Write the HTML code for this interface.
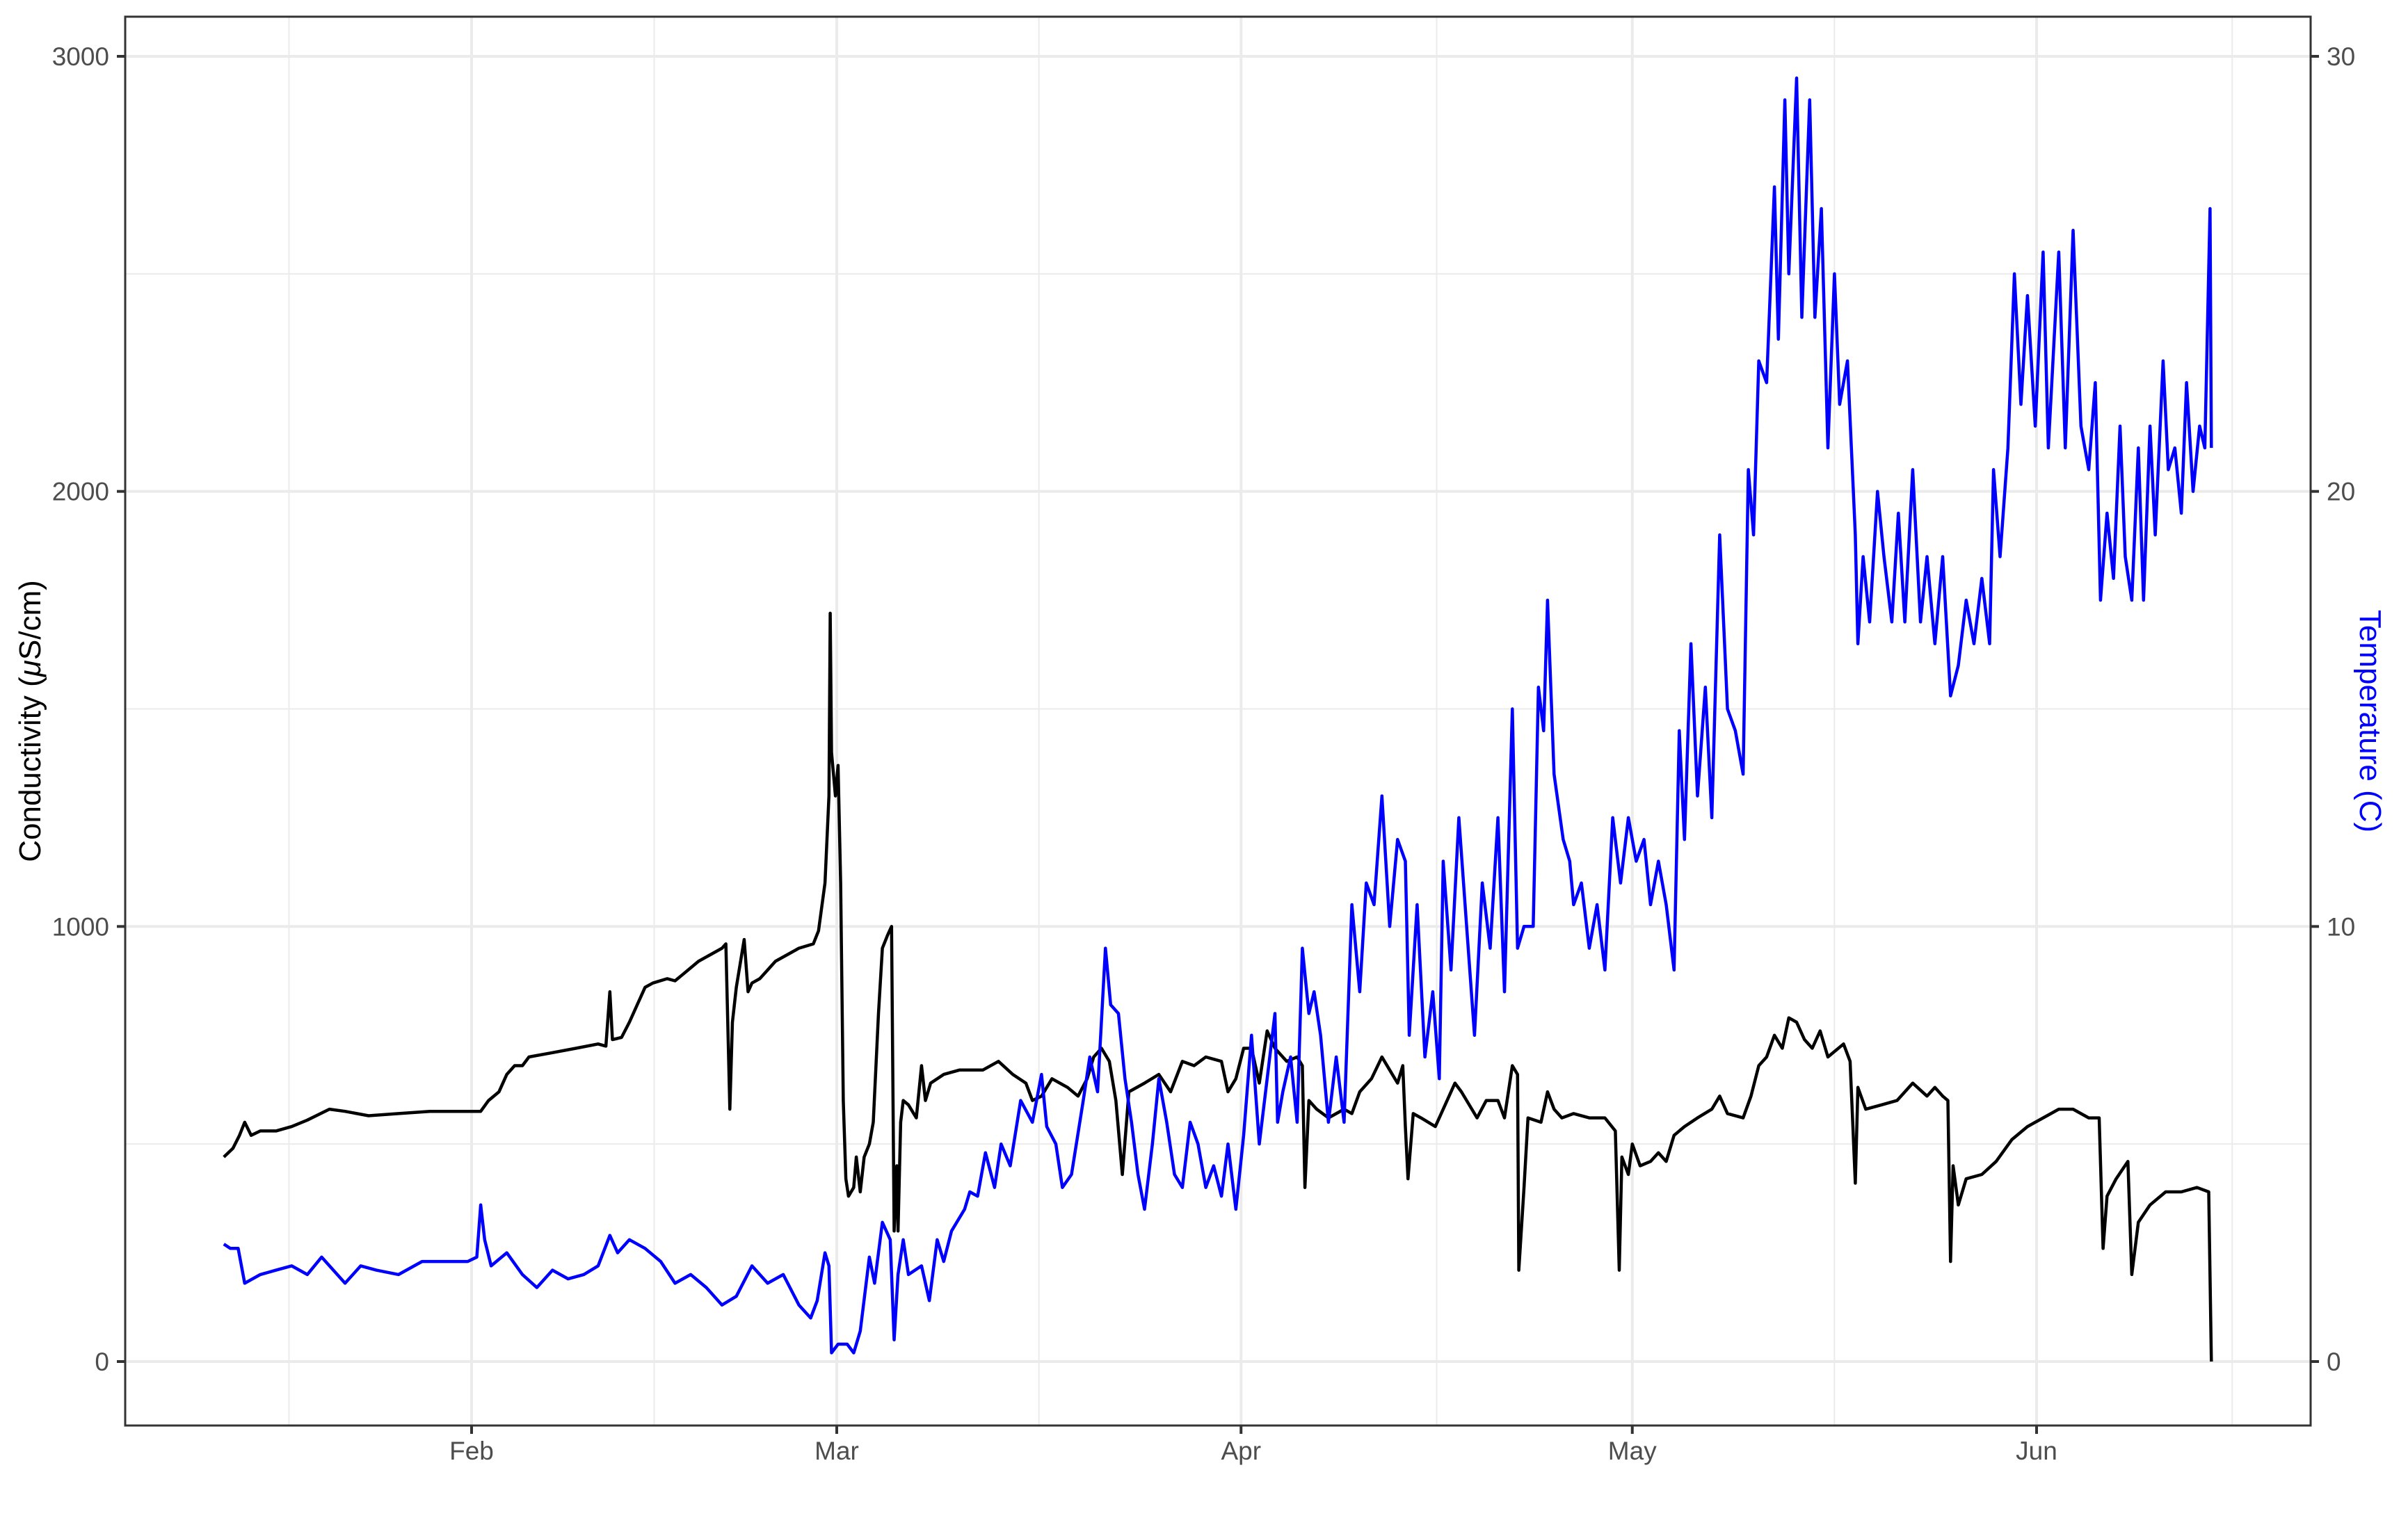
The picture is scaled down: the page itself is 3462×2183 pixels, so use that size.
<!DOCTYPE html>
<html><head><meta charset="utf-8"><style>
body{margin:0;background:#fff;}
svg{display:block;font-family:"Liberation Sans",sans-serif;}
</style></head><body>
<svg id="chart" width="3462" height="2183" viewBox="0 0 3462 2183" xmlns="http://www.w3.org/2000/svg">
<rect width="3462" height="2183" fill="#fff"/>
<g id="grid"></g>
<g id="series"></g>
<rect x="180" y="24" width="3142" height="2026" fill="none" stroke="#333" stroke-width="3"/>
<g id="axes"></g>
<text transform="translate(58,1037) rotate(-90)" text-anchor="middle" font-size="44" fill="#000">Conductivity (<tspan font-style="italic">μ</tspan>S/cm)</text>
<text transform="translate(3393,1037) rotate(90)" text-anchor="middle" font-size="44" fill="#0000ff">Temperature (C)</text>
</svg>
<script>
// Days counted from Jan 1 (day 0)
const monthLabels = ["Feb","Mar","Apr","May","Jun"];
const monthDays = [31,59,90,120,151];
const minorDays = [17,45,74.5,105,135.5,166];
const condTicks = [0,1000,2000,3000];
const condMinor = [500,1500,2500];
const tempTicks = [0,10,20,30];

const condDays = [12.0,12.7,13.2,13.6,14.1,14.8,16.0,17.2,18.4,20.1,21.3,23.1,25.4,27.8,30.1,31.7,32.3,33.1,33.7,34.3,34.9,35.4,37.2,39.0,40.7,41.3,41.6,41.8,42.5,43.1,43.7,44.3,44.9,46.0,46.6,47.2,48.4,50.2,50.5,50.8,51.0,51.3,51.9,52.2,52.5,53.1,54.3,55.5,56.1,57.2,57.6,58.1,58.4,58.5,58.6,58.9,59.1,59.3,59.5,59.7,59.9,60.3,60.5,60.8,61.1,61.5,61.8,62.2,62.5,62.9,63.2,63.4,63.6,63.7,63.9,64.1,64.5,65.1,65.5,65.8,66.2,67.2,68.4,70.2,71.4,72.5,73.5,74.0,74.7,75.5,76.7,77.5,78.2,78.7,79.3,79.9,80.4,80.9,81.4,82.6,83.7,84.6,85.5,86.4,87.3,88.5,89.0,89.6,90.2,90.8,91.4,92.0,92.6,93.5,94.3,94.7,94.9,95.2,95.8,96.7,97.9,98.5,99.1,100.0,100.8,101.4,102.0,102.4,102.6,102.8,103.2,103.8,104.9,105.5,106.4,106.9,107.7,108.1,108.8,109.7,110.2,110.8,111.2,111.3,111.7,112.0,113.0,113.5,114.0,114.6,115.5,116.7,117.9,118.7,119.0,119.2,119.7,120.0,120.6,121.4,122.0,122.6,123.2,124.0,125.0,126.1,126.7,127.3,128.5,129.1,129.7,130.3,130.9,131.5,132.0,132.6,133.2,133.8,134.4,135.0,136.2,136.7,137.1,137.3,137.9,139.1,140.3,141.5,142.6,143.2,143.8,144.2,144.4,144.6,145.0,145.6,146.8,147.9,149.1,150.3,151.5,152.7,153.8,155.0,155.8,156.1,156.4,157.1,158.0,158.3,158.8,159.7,160.9,162.1,163.3,164.2,164.4];
const condValues = [470,490,520,550,520,530,530,540,555,580,575,565,570,575,575,575,600,620,660,680,680,700,710,720,730,725,850,740,745,780,820,860,870,880,875,890,920,950,960,580,780,860,970,850,870,880,920,940,950,960,990,1100,1300,1720,1400,1300,1370,1100,600,420,380,400,470,390,470,500,550,800,950,980,1000,300,450,300,550,600,590,560,680,600,640,660,670,670,690,660,640,600,610,650,630,610,650,700,720,690,600,430,620,640,660,620,690,680,700,690,620,650,720,720,640,760,720,690,700,680,400,600,580,560,580,570,620,650,700,670,640,680,540,420,570,560,540,580,640,620,580,560,600,600,560,680,660,210,400,560,550,620,580,560,570,560,560,530,210,470,430,500,450,460,480,460,520,540,560,580,610,570,560,610,680,700,750,720,790,780,740,720,760,700,730,690,410,630,580,590,600,640,610,630,610,600,230,450,360,420,430,460,510,540,560,580,580,560,560,260,380,420,460,200,320,360,390,390,400,390,0];

const tempDays = [12.0,12.5,13.1,13.6,14.8,16.0,17.2,18.4,19.5,21.3,22.5,23.7,25.4,27.2,29.0,30.7,31.4,31.7,32.0,32.5,33.7,34.9,36.0,37.2,38.4,39.6,40.7,41.6,42.2,43.1,44.3,45.5,46.6,47.8,49.0,50.2,51.3,52.5,53.7,54.9,56.1,57.0,57.5,58.1,58.4,58.6,59.1,59.8,60.3,60.8,61.5,61.9,62.5,63.1,63.4,63.7,64.1,64.5,65.5,66.1,66.7,67.2,67.8,68.8,69.2,69.8,70.4,71.1,71.6,72.3,73.1,74.0,74.7,75.1,75.8,76.3,77.0,77.9,78.4,79.0,79.6,80.0,80.6,81.1,81.6,82.1,82.6,83.2,83.7,84.3,84.9,85.5,86.1,86.7,87.3,87.9,88.5,89.0,89.6,90.2,90.8,91.4,92.0,92.6,92.8,93.2,93.8,94.3,94.7,95.2,95.6,96.1,96.7,97.3,97.9,98.5,99.1,99.6,100.2,100.8,101.4,102.0,102.6,102.9,103.5,104.1,104.7,105.2,105.5,106.1,106.7,107.3,107.9,108.5,109.1,109.7,110.2,110.8,111.2,111.7,112.4,112.8,113.2,113.5,114.0,114.7,115.2,115.5,116.1,116.7,117.3,117.9,118.5,119.1,119.7,120.3,120.9,121.4,122.0,122.6,123.2,123.6,124.0,124.5,125.0,125.6,126.1,126.7,127.3,127.9,128.5,128.9,129.3,129.7,130.3,130.9,131.2,131.7,132.0,132.6,133.0,133.6,134.0,134.5,135.0,135.5,135.9,136.5,137.1,137.3,137.7,138.2,138.8,139.3,139.9,140.4,140.9,141.5,142.1,142.6,143.2,143.8,144.4,145.0,145.6,146.2,146.8,147.4,147.7,148.2,148.8,149.3,149.8,150.3,150.9,151.5,151.9,152.7,153.2,153.8,154.4,155.0,155.5,155.9,156.4,156.9,157.4,157.8,158.3,158.8,159.2,159.7,160.1,160.7,161.1,161.6,162.1,162.5,163.0,163.5,163.9,164.3,164.4];
const tempValues = [2.7,2.6,2.6,1.8,2.0,2.1,2.2,2.0,2.4,1.8,2.2,2.1,2.0,2.3,2.3,2.3,2.4,3.6,2.8,2.2,2.5,2.0,1.7,2.1,1.9,2.0,2.2,2.9,2.5,2.8,2.6,2.3,1.8,2.0,1.7,1.3,1.5,2.2,1.8,2.0,1.3,1.0,1.4,2.5,2.2,0.2,0.4,0.4,0.2,0.7,2.4,1.8,3.2,2.8,0.5,2.0,2.8,2.0,2.2,1.4,2.8,2.3,3.0,3.5,3.9,3.8,4.8,4.0,5.0,4.5,6.0,5.5,6.6,5.4,5.0,4.0,4.3,6.0,7.0,6.2,9.5,8.2,8.0,6.5,5.5,4.3,3.5,5.0,6.5,5.5,4.3,4.0,5.5,5.0,4.0,4.5,3.8,5.0,3.5,5.2,7.5,5.0,6.5,8.0,5.5,6.2,7.0,5.5,9.5,8.0,8.5,7.5,5.5,7.0,5.5,10.5,8.5,11.0,10.5,13.0,10.0,12.0,11.5,7.5,10.5,7.0,8.5,6.5,11.5,9.0,12.5,10.0,7.5,11.0,9.5,12.5,8.5,15.0,9.5,10.0,10.0,15.5,14.5,17.5,13.5,12.0,11.5,10.5,11.0,9.5,10.5,9.0,12.5,11.0,12.5,11.5,12.0,10.5,11.5,10.5,9.0,14.5,12.0,16.5,13.0,15.5,12.5,19.0,15.0,14.5,13.5,20.5,19.0,23.0,22.5,27.0,23.5,29.0,25.0,29.5,24.0,29.0,24.0,26.5,21.0,25.0,22.0,23.0,19.0,16.5,18.5,17.0,20.0,18.5,17.0,19.5,17.0,20.5,17.0,18.5,16.5,18.5,15.3,16.0,17.5,16.5,18.0,16.5,20.5,18.5,21.0,25.0,22.0,24.5,21.5,25.5,21.0,25.5,21.0,26.0,21.5,20.5,22.5,17.5,19.5,18.0,21.5,18.5,17.5,21.0,17.5,21.5,19.0,23.0,20.5,21.0,19.5,22.5,20.0,21.5,21.0,26.5,21.0];

const NS="http://www.w3.org/2000/svg";
const X0=180,X1=3322,YT=24,YB=2050;
function xScale(d){return 678+(d-31)*18.75;}
function yCond(v){return 1958-v*(1958-81)/3000;}
function yTemp(t){return 1958-t*(1958-81)/30;}
function mk(tag,attrs,parent){const e=document.createElementNS(NS,tag);for(const k in attrs)e.setAttribute(k,attrs[k]);parent.appendChild(e);return e;}

const grid=document.getElementById('grid');
const axes=document.getElementById('axes');
const series=document.getElementById('series');

condMinor.forEach(v=>{
  const l=mk('line',{x1:X0,x2:X1,y1:yCond(v),y2:yCond(v),stroke:'#EBEBEB','stroke-width':2},grid);
  
  
});
minorDays.forEach(d=>{
  const l=mk('line',{x1:xScale(d),x2:xScale(d),y1:YT,y2:YB,stroke:'#EBEBEB','stroke-width':2},grid);
  
  
});
condTicks.forEach((v,i)=>{
  const y=yCond(v);
  const l=mk('line',{x1:X0,x2:X1,y1:y,y2:y,stroke:'#EBEBEB','stroke-width':4},grid);
  
  
  const t=mk('line',{x1:168,x2:180,y1:y,y2:y,stroke:'#333','stroke-width':4},axes);
  
  
  const tx=mk('text',{x:157,y:y+13,'text-anchor':'end','font-size':37,fill:'#4D4D4D'},axes);
  tx.textContent=String(v);
  
  
});
tempTicks.forEach(v=>{
  const y=yTemp(v);
  const t=mk('line',{x1:3322,x2:3334,y1:y,y2:y,stroke:'#333','stroke-width':4},axes);
  
  
  const tx=mk('text',{x:3345,y:y+13,'text-anchor':'start','font-size':37,fill:'#4D4D4D'},axes);
  tx.textContent=String(v);
  
  
});
monthDays.forEach((d,i)=>{
  const x=xScale(d);
  const l=mk('line',{x1:x,x2:x,y1:YT,y2:YB,stroke:'#EBEBEB','stroke-width':4},grid);
  
  
  const t=mk('line',{x1:x,x2:x,y1:YB,y2:YB+12,stroke:'#333','stroke-width':4},axes);
  
  
  const tx=mk('text',{x:x,y:2099,'text-anchor':'middle','font-size':37,fill:'#4D4D4D'},axes);
  tx.textContent=monthLabels[i];
  
  
});

function pathFrom(days,vals,ys){return days.map((d,i)=>(i?'L':'M')+xScale(d).toFixed(1)+','+ys(vals[i]).toFixed(1)).join('');}
const pc=mk('path',{d:pathFrom(condDays,condValues,yCond),fill:'none',stroke:'#000','stroke-width':4.5,'stroke-linejoin':'round'},series);


const pt=mk('path',{d:pathFrom(tempDays,tempValues,yTemp),fill:'none',stroke:'#0000ff','stroke-width':4.5,'stroke-linejoin':'round'},series);


</script>
</body></html>
